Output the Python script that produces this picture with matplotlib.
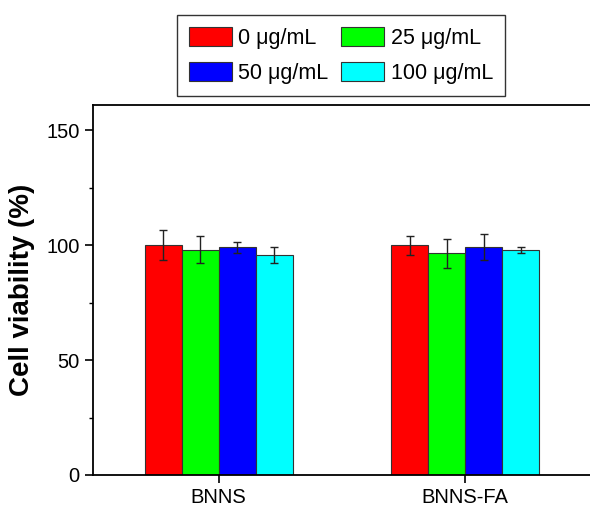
import matplotlib
matplotlib.use("Agg")
import matplotlib.pyplot as plt
import numpy as np

plt.rcParams['font.family'] = ['Liberation Sans', 'DejaVu Sans']

groups = ["BNNS", "BNNS-FA"]
series = ["0 μg/mL", "25 μg/mL", "50 μg/mL", "100 μg/mL"]
colors = ["#ff0000", "#00ff00", "#0000ff", "#00ffff"]
values = [
    [100.0, 98.1, 99.1, 95.8],   # BNNS
    [100.0, 96.4, 99.3, 98.1],   # BNNS-FA
]
errors = [
    [6.4, 6.0, 2.5, 3.6],
    [4.2, 6.5, 5.6, 1.3],
]

fig = plt.figure(figsize=(5.9, 5.08), dpi=100)
ax = fig.add_axes([93/590, 1-475/508, 1-93/590+0.01, (475-105)/508])

x = np.arange(1, len(groups)+1)
w = 0.15
vals = np.array(values)
errs = np.array(errors)
handles = []
for i, (s, c) in enumerate(zip(series, colors)):
    b = ax.bar(x + (i-1.5)*w, vals[:, i], width=w, color=c, edgecolor="#333333",
               linewidth=0.8, label=s, zorder=2)
    handles.append(b)
    ax.errorbar(x + (i-1.5)*w, vals[:, i], yerr=errs[:, i], fmt='none',
                ecolor="#222222", elinewidth=1.0, capsize=3, capthick=1.0, zorder=3)

ax.set_xlim(0.49, 2.53)
ax.set_ylim(0, 161)
ax.set_yticks([0, 50, 100, 150])
ax.set_yticks([25, 75, 125], minor=True)
ax.set_xticks(x)
ax.set_xticklabels(groups)
ax.tick_params(axis='both', which='major', direction='out', length=6, width=1.2, labelsize=14.5, colors='black')
ax.tick_params(axis='y', which='minor', direction='out', length=3, width=1.0)
for sp in ax.spines.values():
    sp.set_linewidth(1.3)
ax.spines['right'].set_visible(False)
ax.set_ylabel("Cell viability (%)", fontsize=20, fontweight='bold', labelpad=8)

order = [0, 2, 1, 3]
leg = fig.legend([handles[k] for k in order], [series[k] for k in order],
                 loc='center', bbox_to_anchor=(341/590, 1-55.5/508), ncol=2,
                 fontsize=15.5, frameon=True, fancybox=False, edgecolor='black',
                 handlelength=2.0, handleheight=0.95, columnspacing=0.6,
                 handletextpad=0.3, borderpad=0.55, labelspacing=0.62,
                 borderaxespad=0)
leg.get_frame().set_linewidth(1.0)

fig.savefig("out.png", dpi=100)
